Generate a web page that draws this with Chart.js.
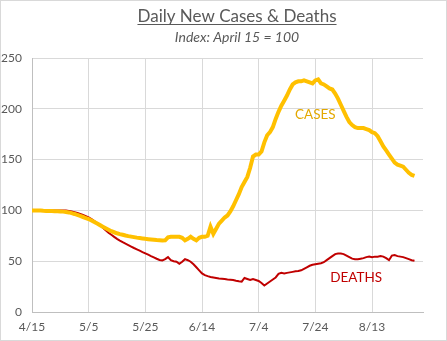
<!DOCTYPE html>
<html>
<head>
<meta charset="utf-8">
<script src="https://cdn.jsdelivr.net/npm/chart.js@4/dist/chart.umd.min.js"></script>
<style>
  body { margin: 0; background: #fff; }
  canvas { display: block; }
</style>
</head>
<body>
<canvas id="myChart" width="447" height="341"></canvas>
<script>
// daily index values, day 0 = 4/15
const cases = [
  100, 100, 100, 99.8, 99.6, 99.5, 99.4, 99.3, 99.2, 99.1,
  99, 98.8, 98.5, 98, 97.3, 96.5, 95.5, 94.5, 93.5, 92.5,
  91.5, 90, 88.5, 87, 85.5, 84, 82.5, 81, 79.5, 78.5,
  77.5, 76.7, 76, 75.3, 74.7, 74.2, 73.7, 73.2, 72.8, 72.4,
  72, 71.7, 71.4, 71.1, 70.8, 70.6, 70.4, 70.5, 73.5, 74,
  74, 74, 74, 73, 70.5, 72, 74, 72, 70.5, 73,
  74, 74, 75, 84, 77, 82, 87, 90, 93, 95,
  99, 104, 110, 116, 123, 128, 133, 142, 153, 155,
  155, 158, 167, 174, 177, 182, 190, 197, 203, 208,
  213, 219, 224, 226, 227, 227, 228, 227, 226, 225,
  228, 229, 225, 224, 222, 220, 219, 215, 210, 204,
  198, 192, 187, 184, 182, 181, 181, 181, 180, 179,
  177, 176, 173, 168, 163, 159, 155, 151, 147, 145,
  144, 143, 140, 137, 135, 134
];
const deaths = [
  100, 100, 100, 100, 100, 100, 100, 100, 100, 100,
  100, 100, 100, 99.5, 99, 98.3, 97.5, 96.5, 95.5, 94.3,
  93, 91.5, 89.5, 87.5, 85.5, 83, 80.5, 78, 76, 74,
  72, 70.3, 68.7, 67.2, 65.8, 64.4, 63, 61.7, 60.4, 59,
  57.7, 56.4, 55, 53.7, 52.4, 51.2, 50.8, 52, 54, 51,
  50, 49.5, 47.5, 49.5, 52, 51, 49.5, 47, 44, 41,
  38, 36.3, 35.3, 34.5, 34, 33.5, 33, 32.7, 32.4, 32,
  31.8, 31.5, 30.8, 30.2, 29.8, 33.5, 32.5, 31.5, 32.5, 31.5,
  30.5, 28.5, 26, 28, 30, 32, 34, 37.5, 38.5, 38,
  38.5, 39, 39.5, 40, 40.3, 41, 42.5, 44, 45.5, 46.5,
  47, 47.5, 48, 49, 51, 53, 55, 57, 57.5, 57.5,
  57, 55.5, 54, 52.5, 52, 52, 52.5, 53, 54, 54.5,
  54, 54.5, 54.5, 55, 54.5, 53, 51, 55.5, 56, 55,
  54.5, 54, 53, 52, 51, 50.5
];
const tickDays = [0, 20, 40, 60, 80, 100, 120];
const tickLabels = ['4/15', '5/5', '5/25', '6/14', '7/4', '7/24', '8/13'];
const lastAxisDay = 138;

const textColor = '#595959';
const gridColor = '#D9D9D9';
const axisColor = '#BFBFBF';

function toPoints(arr) {
  return arr.map((v, i) => ({ x: i, y: v }));
}

// title, subtitle, series labels and the outer border
const decorations = {
  id: 'decorations',
  afterDraw(chart) {
    const c = chart.ctx;
    const xs = chart.scales.x, ys = chart.scales.y;
    c.save();
    c.strokeStyle = '#D9D9D9';
    c.lineWidth = 1;
    c.strokeRect(0.5, 0.5, 446, 340);

    c.textAlign = 'center';
    c.textBaseline = 'alphabetic';
    c.fillStyle = textColor;
    c.font = '17px Lato';
    const title = 'Daily New Cases & Deaths';
    c.fillText(title, 237, 22);
    const w = c.measureText(title).width;
    c.fillRect(237 - w / 2, 24, w, 1);

    c.font = 'italic 14px Lato';
    c.fillText('Index: April 15 = 100', 237, 42);

    c.font = '13.5px Lato';
    c.textBaseline = 'middle';
    c.fillStyle = '#E3A800';
    c.fillText('CASES', xs.getPixelForValue(100), ys.getPixelForValue(194));
    c.fillStyle = '#C00000';
    c.fillText('DEATHS', xs.getPixelForValue(114.4), ys.getPixelForValue(34));
    c.restore();
  }
};

const ctx = document.getElementById('myChart').getContext('2d');
const myChart = new Chart(ctx, {
  type: 'line',
  data: {
    datasets: [{
      label: 'Cases',
      data: toPoints(cases),
      borderColor: '#FFC000',
      borderWidth: 4,
      pointRadius: 0,
      tension: 0
    },
    {
      label: 'Deaths',
      data: toPoints(deaths),
      borderColor: '#C00000',
      borderWidth: 2,
      pointRadius: 0,
      tension: 0
    }]
  },
  options: {
    responsive: false,
    animation: false,
    layout: { padding: { top: 58, right: 24, bottom: 0, left: 0 } },
    scales: {
      x: {
        type: 'linear',
        min: 0,
        max: lastAxisDay,
        afterBuildTicks: (scale) => {
          scale.ticks = tickDays.map(v => ({ value: v }));
        },
        afterFit: (scale) => { scale.height = 29; },
        ticks: {
          autoSkip: false,
          maxRotation: 0,
          padding: 8,
          color: textColor,
          font: { family: 'Lato', size: 12 },
          callback: (v) => tickLabels[tickDays.indexOf(v)] || ''
        },
        grid: { color: gridColor, drawTicks: false },
        border: { display: true, color: axisColor }
      },
      y: {
        min: 0,
        max: 250,
        afterFit: (scale) => { scale.width = 32; },
        ticks: {
          stepSize: 50,
          padding: 10,
          color: textColor,
          font: { family: 'Lato', size: 12 }
        },
        grid: { color: gridColor, drawTicks: false },
        border: { display: true, color: axisColor }
      }
    },
    plugins: {
      legend: { display: false },
      tooltip: { enabled: false }
    }
  },
  plugins: [decorations]
});
</script>
</body>
</html>
